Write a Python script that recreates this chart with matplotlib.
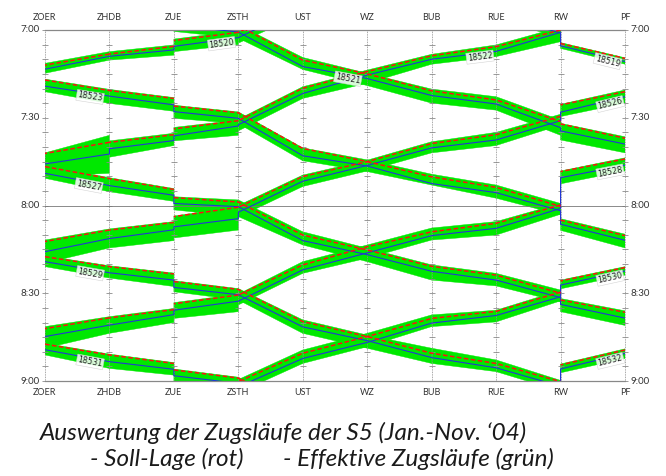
import numpy as np
import matplotlib.pyplot as plt

nan = np.nan

stations = ["ZOER", "ZHDB", "ZUE", "ZSTH", "UST", "WZ", "BUB", "RUE", "RW", "PF"]
hour_ticks = [0, 30, 60, 90, 120]
hour_labels = ["7:00", "7:30", "8:00", "8:30", "9:00"]

# station index of every point of a run (stops with dwell appear twice)
# ZOER ZHDB ZUE ZUE ZSTH UST WZ BUB RUE RW RW PF
path_pf = [0, 1, 2, 2, 3, 4, 5, 6, 7, 8, 8, 9]
# PF RW RW RUE BUB WZ UST ZSTH ZSTH ZUE ZUE ZHDB ZHDB ZOER
path_zoer = [9, 8, 8, 7, 6, 5, 4, 3, 3, 2, 2, 1, 1, 0]

# minutes after 7:00
# soll = timetable (red), ist = median run (blue), lo/hi = spread of runs (green)
soll_18519 = [nan, nan, nan, nan, nan, nan, nan, nan, -6.5, -0.5, 4.6, 9.7]
ist_18519 = [nan, nan, nan, nan, nan, nan, nan, nan, -5.0, 1.0, 5.4, 10.8]
lo_18519 = [nan, nan, nan, nan, nan, nan, nan, nan, -7.0, -1.0, 4.3, 9.5]
hi_18519 = [nan, nan, nan, nan, nan, nan, nan, nan, -3.5, 2.5, 6.3, 11.7]

soll_18521 = [nan, nan, nan, -3.7, -1.5, 10.3, 15.0, 20.8, 23.9, 31.3, 32.1, 37.0]
ist_18521 = [nan, nan, nan, -1.7, 0.7, 12.5, 16.6, 22.4, 25.3, 33.4, 34.5, 39.0]
lo_18521 = [nan, nan, nan, -4.0, -1.8, 9.4, 14.8, 20.2, 22.8, 30.8, 31.9, 36.5]
hi_18521 = [nan, nan, nan, 0.5, 2.8, 13.5, 19.0, 25.0, 27.4, 36.0, 37.6, 42.0]

soll_18523 = [17.1, 20.7, 23.4, 26.0, 28.3, 40.5, 45.0, 50.2, 53.8, 60.3, 65.0, 70.3]
ist_18523 = [19.2, 22.6, 25.6, 27.9, 30.2, 43.0, 46.5, 52.5, 55.6, 61.8, 66.4, 71.9]
lo_18523 = [16.8, 20.3, 23.1, 25.7, 28.0, 40.3, 44.4, 49.3, 53.0, 59.3, 64.5, 69.8]
hi_18523 = [21.1, 25.1, 27.8, 30.2, 32.0, 44.7, 48.4, 53.0, 57.5, 63.2, 68.5, 74.5]

soll_18527 = [46.7, 50.8, 54.5, 57.3, 58.8, 70.1, 75.2, 80.8, 83.8, 90.0, 92.3, 96.5]
ist_18527 = [49.0, 53.2, 56.5, 59.3, 60.4, 72.0, 76.8, 82.5, 85.5, 91.5, 93.8, 98.5]
lo_18527 = [46.2, 50.5, 54.2, 57.0, 58.1, 69.0, 74.6, 80.3, 83.2, 88.9, 91.8, 96.0]
hi_18527 = [50.7, 55.3, 58.6, 61.5, 63.8, 73.5, 79.2, 85.5, 87.5, 93.0, 96.3, 101.0]

soll_18529 = [77.5, 80.9, 83.4, 86.0, 88.7, 99.7, 104.8, 110.5, 114.0, 120.2, nan, nan]
ist_18529 = [79.2, 83.0, 85.5, 88.0, 90.5, 101.5, 106.2, 112.0, 115.5, 121.8, nan, nan]
lo_18529 = [77.2, 80.6, 83.1, 85.7, 88.4, 99.1, 104.3, 108.8, 112.8, 119.8, nan, nan]
hi_18529 = [80.9, 84.8, 87.7, 89.5, 92.3, 103.7, 108.8, 114.0, 116.8, 123.5, nan, nan]

soll_18531 = [107.4, 111.1, 114.0, 116.2, 119.0, 130.5, nan, nan, nan, nan, nan, nan]
ist_18531 = [109.3, 113.4, 116.0, 118.2, 120.8, 132.5, nan, nan, nan, nan, nan, nan]
lo_18531 = [107.1, 110.8, 113.7, 115.9, 118.7, 130.0, nan, nan, nan, nan, nan, nan]
hi_18531 = [111.1, 115.7, 118.0, 120.0, 122.0, 134.0, nan, nan, nan, nan, nan, nan]

soll_18520 = [nan, nan, nan, nan, nan, nan, -9.6, 0.8, 0.8, 3.6, 5.6, 8.2, 8.2, 12.0]
ist_18520 = [nan, nan, nan, nan, nan, nan, -7.9, 2.6, 2.6, 5.6, 6.8, 9.0, 9.0, 13.4]
lo_18520 = [nan, nan, nan, nan, nan, nan, -10.2, 0.3, 0.3, 3.1, 5.1, 7.4, 7.4, 11.4]
hi_18520 = [nan, nan, nan, nan, nan, nan, -5.5, 4.5, 5.0, 7.4, 8.6, 10.3, 10.3, 14.8]

soll_18522 = [nan, nan, 0.0, 5.7, 8.8, 14.2, 19.9, 31.0, 31.0, 33.8, 35.8, 38.4, 38.4, 42.2]
ist_18522 = [nan, nan, 0.8, 7.3, 10.0, 15.4, 21.7, 32.4, 32.8, 36.2, 37.8, 40.6, 42.4, 45.8]
lo_18522 = [nan, nan, -1.0, 5.1, 8.3, 13.7, 19.4, 30.5, 30.8, 33.3, 35.3, 37.9, 36.0, 42.0]
hi_18522 = [nan, nan, 4.0, 9.1, 11.7, 18.2, 23.4, 34.5, 36.0, 37.9, 39.5, 43.5, 49.0, 50.0]

soll_18526 = [21.1, 25.6, 29.5, 35.8, 38.8, 45.0, 50.1, 60.6, 60.6, 63.8, 65.8, 68.4, 68.4, 72.3]
ist_18526 = [22.8, 28.1, 31.0, 37.6, 40.3, 46.3, 51.7, 62.3, 64.5, 67.3, 68.3, 71.3, 71.3, 75.8]
lo_18526 = [20.5, 25.4, 28.8, 35.0, 38.2, 44.5, 49.6, 60.0, 60.4, 63.6, 65.5, 68.0, 68.0, 71.8]
hi_18526 = [25.0, 29.6, 32.5, 39.5, 42.0, 48.2, 53.5, 64.0, 68.4, 71.1, 72.0, 74.5, 74.5, 79.7]

soll_18528 = [44.1, 48.4, 59.8, 66.1, 69.0, 74.1, 80.3, 90.6, 90.6, 93.6, 95.6, 98.4, 98.4, 102.1]
ist_18528 = [46.2, 50.5, 61.0, 67.8, 70.3, 76.2, 82.0, 92.7, 92.7, 95.8, 97.3, 100.9, 100.9, 104.8]
lo_18528 = [43.7, 48.2, 59.3, 65.5, 67.7, 73.5, 79.2, 90.3, 90.3, 93.2, 95.2, 98.0, 98.0, 101.4]
hi_18528 = [48.2, 52.6, 63.0, 70.1, 71.8, 78.0, 83.2, 94.0, 96.3, 98.6, 100.0, 103.7, 103.7, 108.8]

soll_18530 = [81.2, 85.8, 89.6, 96.2, 98.6, 104.8, 110.5, 120.2, nan, nan, nan, nan, nan, nan]
ist_18530 = [82.4, 87.2, 91.2, 97.6, 100.2, 106.8, 112.3, 122.0, nan, nan, nan, nan, nan, nan]
lo_18530 = [80.9, 85.5, 89.0, 95.8, 97.4, 103.7, 109.4, 119.5, nan, nan, nan, nan, nan, nan]
hi_18530 = [83.8, 88.5, 92.6, 99.8, 101.4, 108.3, 114.0, 124.0, nan, nan, nan, nan, nan, nan]

soll_18532 = [109.4, 114.5, 120.5, nan, nan, nan, nan, nan, nan, nan, nan, nan, nan, nan]
ist_18532 = [110.6, 115.9, 121.5, nan, nan, nan, nan, nan, nan, nan, nan, nan, nan, nan]
lo_18532 = [109.0, 114.2, 120.0, nan, nan, nan, nan, nan, nan, nan, nan, nan, nan, nan]
hi_18532 = [112.3, 117.2, 124.0, nan, nan, nan, nan, nan, nan, nan, nan, nan, nan, nan]

trains = [
    ("18519", path_pf, soll_18519, ist_18519, lo_18519, hi_18519),
    ("18521", path_pf, soll_18521, ist_18521, lo_18521, hi_18521),
    ("18523", path_pf, soll_18523, ist_18523, lo_18523, hi_18523),
    ("18527", path_pf, soll_18527, ist_18527, lo_18527, hi_18527),
    ("18529", path_pf, soll_18529, ist_18529, lo_18529, hi_18529),
    ("18531", path_pf, soll_18531, ist_18531, lo_18531, hi_18531),
    ("18520", path_zoer, soll_18520, ist_18520, lo_18520, hi_18520),
    ("18522", path_zoer, soll_18522, ist_18522, lo_18522, hi_18522),
    ("18526", path_zoer, soll_18526, ist_18526, lo_18526, hi_18526),
    ("18528", path_zoer, soll_18528, ist_18528, lo_18528, hi_18528),
    ("18530", path_zoer, soll_18530, ist_18530, lo_18530, hi_18530),
    ("18532", path_zoer, soll_18532, ist_18532, lo_18532, hi_18532),
]

# where the train number sits: (section start point, fraction along it)
label_spot = {"18519": (10, 0.73), "18521": (5, 0.7), "18523": (0, 0.7),
              "18527": (0, 0.68), "18529": (0, 0.7), "18531": (0, 0.7),
              "18520": (8, 0.26), "18522": (3, 0.25), "18526": (0, 0.23),
              "18528": (0, 0.23), "18530": (0, 0.23), "18532": (0, 0.23)}

GREEN = "#00e800"
BLUE = "#2236d6"
RED = "#ff1010"
GRID = "#8a8a8a"
TXT = "#333333"

fig = plt.figure(figsize=(6.66, 4.76), dpi=100)
ax = fig.add_axes([45 / 666, 1 - 381 / 476, 580 / 666, 351 / 476])
ax.set_xlim(0, 9)
ax.set_ylim(120, 0)

# station lines with 5 min ticks
for i in range(len(stations)):
    ax.plot([i, i], [0, 120], color=GRID, lw=0.6, ls=(0, (1, 1)), zorder=2, clip_on=False)
    ax.plot([i] * 25, np.arange(0, 121, 5), ls="none", marker="_", ms=4, mew=0.6,
            color=GRID, zorder=2, clip_on=False)
ax.axhline(60, color="#777777", lw=0.6, zorder=2)

for name, st, soll, ist, lo, hi in trains:
    x = np.array(st, float)
    soll = np.array(soll, float)
    ist = np.array(ist, float)
    lo = np.array(lo, float)
    hi = np.array(hi, float)
    rx, ry = [], []
    for i in range(len(x)):
        if i > 0 and x[i] == x[i - 1]:
            rx.append(nan)
            ry.append(nan)
        rx.append(x[i])
        ry.append(soll[i])
        if i == len(x) - 1 or x[i] == x[i + 1]:
            continue
        qy = [lo[i], lo[i + 1], hi[i + 1], hi[i]]
        if np.isnan(qy).any():
            continue
        ax.fill([x[i], x[i + 1], x[i + 1], x[i]], qy, color=GREEN, lw=0.3, zorder=1)
    ax.plot(x, ist, color=BLUE, lw=0.8, zorder=3)
    ax.plot(rx, ry, color=RED, lw=1.1, dashes=(3, 1.6), zorder=4)

    # train number along its median line
    i, f = label_spot[name]
    p0 = ax.transData.transform((x[i], ist[i]))
    p1 = ax.transData.transform((x[i + 1], ist[i + 1]))
    ang = np.degrees(np.arctan2(p1[1] - p0[1], p1[0] - p0[0]))
    if ang > 90:
        ang -= 180
    elif ang < -90:
        ang += 180
    lx = x[i] + f * (x[i + 1] - x[i])
    ly = ist[i] + f * (ist[i + 1] - ist[i]) + 1.3
    ax.text(lx, ly, name, rotation=ang, rotation_mode="anchor", ha="center", va="center",
            fontsize=5.8, color="#222222", zorder=6,
            bbox=dict(boxstyle="square,pad=0.12", fc="white", ec="#cccccc", lw=0.4, alpha=0.85))

for s in ["left", "right"]:
    ax.spines[s].set_visible(False)
for s in ["top", "bottom"]:
    ax.spines[s].set_color("#888888")
    ax.spines[s].set_linewidth(0.9)
ax.set_xticks([])
ax.set_yticks([])

for i, s in enumerate(stations):
    ax.text(i, -4.4, s, ha="center", va="center", fontsize=6.5, color=TXT,
            family="Lato", clip_on=False)
    ax.text(i, 123.8, s, ha="center", va="center", fontsize=6.5, color=TXT,
            family="Lato", clip_on=False)
for t, lab in zip(hour_ticks, hour_labels):
    ax.text(-0.08, t, lab, ha="right", va="center", fontsize=7, color=TXT,
            family="Lato", clip_on=False)
    ax.text(9.08, t, lab, ha="left", va="center", fontsize=7, color=TXT,
            family="Lato", clip_on=False)

cap = dict(fontsize=17.5, style="italic", weight="normal", family="Lato",
           color="#1a1a1a", va="center")
fig.text(40 / 666, 1 - 433 / 476, "Auswertung der Zugsläufe der S5 (Jan.-Nov. \u201804)", **cap)
fig.text(90 / 666, 1 - 459 / 476, "- Soll-Lage (rot)", **cap)
fig.text(283 / 666, 1 - 459 / 476, "- Effektive Zugsläufe (grün)", **cap)

plt.savefig("out.png", dpi=100)
